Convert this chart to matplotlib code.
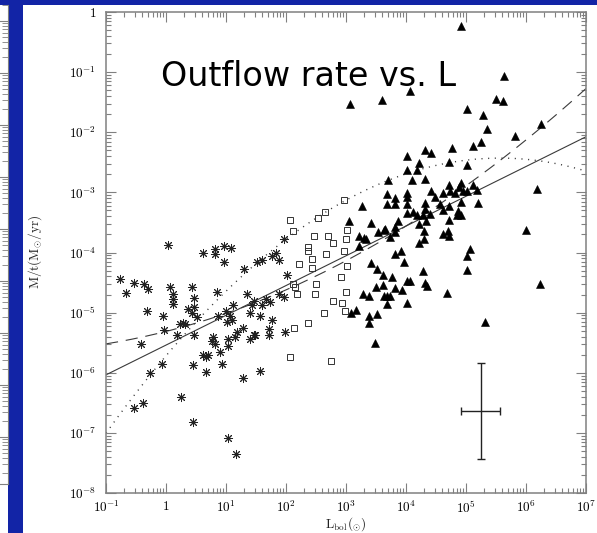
import matplotlib
matplotlib.use("Agg")
import matplotlib.pyplot as plt
import numpy as np
from matplotlib.patches import Rectangle
from matplotlib.ticker import LogLocator, FuncFormatter, NullFormatter

W, H = 597, 533
BLUE = "#1224a6"
FRAME = "#808080"

# log10 L_bol and log10 Mdot for the three source groups
STAR_LOGL = [0.04, 0.62, 0.81, 0.82, 0.96, 1.08, 0.96, 1.30, -0.76, -0.67, -0.53, -0.37,
             -0.30, 0.07, 0.11, 0.11, 0.11, 0.43, 0.46, 0.47, 0.37, 0.43, 0.51, -0.31,
             -0.05, 0.85, 1.11, 1.00, 0.87, 1.07, 1.10, 1.01, 0.29, 0.32, 0.23, -0.03,
             0.18, 0.47, -0.41, 0.79, 0.76, 0.81, 1.04, 1.04, 1.18, 1.15, 1.29, 1.40,
             1.35, 1.46, 1.60, 1.73, 1.67, 1.57, 1.76, 1.71, 1.71, 1.46, 1.40, 0.90,
             0.62, 0.67, 0.70, 0.93, 0.45, 0.67, -0.07, -0.26, 1.57, 1.29, 1.51, 1.60,
             1.76, 1.83, 1.89, 1.89, -0.39, -0.53, 0.25, 0.45, 1.96, 2.01, 1.96, 1.98,
             1.43, 1.48, 1.17, 1.03]
STAR_LOGM = [-3.87, -4.00, -3.95, -4.02, -3.90, -3.92, -4.15, -4.27, -4.44, -4.68, -4.51, -4.52,
             -4.61, -4.58, -4.69, -4.77, -4.85, -4.58, -4.75, -4.90, -4.94, -5.00, -5.08, -4.98,
             -5.05, -4.66, -4.87, -4.97, -5.05, -5.05, -5.13, -5.16, -5.18, -5.19, -5.19, -5.29,
             -5.37, -5.38, -5.52, -5.41, -5.47, -5.52, -5.44, -5.55, -5.33, -5.41, -5.25, -5.00,
             -4.69, -4.80, -4.88, -4.83, -4.77, -5.05, -5.13, -5.27, -5.38, -5.37, -5.44, -5.66,
             -5.70, -5.73, -5.70, -5.85, -5.87, -5.98, -5.85, -6.01, -5.97, -6.09, -4.16, -4.12,
             -4.05, -4.01, -4.13, -4.69, -6.51, -6.58, -6.40, -6.82, -3.77, -4.38, -4.74, -5.33,
             -4.88, -5.38, -7.35, -7.08]

SQ_LOGL = [2.97, 2.65, 2.54, 2.06, 2.11, 3.01, 2.46, 2.70, 2.79, 3.00, 2.36, 2.37, 2.67,
           2.97, 2.43, 2.21, 2.43, 3.01, 2.91, 2.12, 2.15, 2.50, 2.19, 2.48, 3.00, 2.79,
           2.93, 2.98, 2.63, 2.36, 2.13, 2.06, 2.75]
SQ_LOGM = [-3.13, -3.33, -3.43, -3.46, -3.65, -3.62, -3.72, -3.73, -3.84, -3.77, -3.91, -3.97, -4.03,
           -3.98, -4.10, -4.19, -4.26, -4.22, -4.40, -4.52, -4.57, -4.53, -4.69, -4.69, -4.65, -4.80,
           -4.84, -4.97, -5.00, -5.17, -5.26, -5.73, -5.81]

TRI_LOGL = [5.63, 4.07, 3.60, 5.50, 5.61, 5.02, 5.28, 5.35, 6.25, 5.81, 5.25, 5.12, 4.76,
            4.32, 4.41, 4.01, 4.22, 4.72, 5.02, 4.01, 4.19, 3.70, 4.10, 4.32, 4.72, 4.91,
            4.89, 5.12, 4.42, 4.62, 4.73, 4.82, 4.95, 5.02, 5.18, 6.18, 3.69, 4.02, 4.02,
            3.82, 4.48, 3.69, 3.82, 4.01, 4.32, 4.57, 4.72, 4.92, 5.20, 4.12, 4.18, 4.02,
            4.32, 4.29, 4.40, 4.61, 4.86, 4.92, 4.85, 3.87, 4.33, 4.22, 4.72, 3.65, 3.82,
            3.82, 3.73, 4.30, 4.61, 4.70, 4.72, 6.00, 4.30, 4.22, 3.82, 3.92, 5.02, 5.07,
            4.92, 3.07, 3.26, 3.05, 3.41, 3.53, 3.64, 3.22, 3.30, 3.33, 3.21, 3.96, 3.41,
            3.51, 3.61, 3.76, 4.29, 5.02, 3.50, 3.62, 4.01, 4.06, 4.32, 4.35, 3.82, 3.94,
            3.29, 3.39, 3.63, 3.69, 3.73, 4.68, 3.68, 4.01, 3.09, 3.16, 3.39, 3.51, 3.39,
            3.48, 5.32, 6.23]
TRI_LOGM = [-1.06, -1.31, -1.47, -1.44, -1.48, -1.61, -1.72, -1.95, -1.86, -2.07, -2.16, -2.23, -2.26,
            -2.29, -2.35, -2.40, -2.51, -2.50, -2.55, -2.62, -2.62, -2.80, -2.79, -2.78, -2.87, -2.85,
            -2.91, -2.88, -2.97, -3.01, -2.97, -3.01, -2.98, -2.98, -2.96, -2.94, -3.03, -3.01, -3.08,
            -3.09, -3.08, -3.20, -3.19, -3.19, -3.18, -3.20, -3.22, -3.16, -3.17, -3.33, -3.38, -3.35,
            -3.27, -3.37, -3.36, -3.29, -3.31, -3.37, -3.37, -3.47, -3.47, -3.53, -3.46, -3.61, -3.58,
            -3.66, -3.75, -3.65, -3.69, -3.65, -3.72, -3.62, -3.77, -3.85, -4.02, -3.98, -4.05, -3.95,
            -0.23, -1.53, -3.22, -3.47, -3.51, -3.66, -3.62, -3.72, -3.76, -3.77, -3.90, -4.15, -4.18,
            -4.28, -4.37, -4.40, -4.30, -4.29, -4.57, -4.54, -4.48, -4.48, -4.51, -4.55, -4.59, -4.62,
            -4.69, -4.73, -4.72, -4.72, -4.72, -4.67, -4.86, -4.84, -5.00, -4.95, -5.06, -5.03, -5.18,
            -5.51, -5.15, -4.52]

# fits in log-log space
SOLID_FIT = (-5.54, 0.495)              # intercept, slope
DASH_FIT = (-5.313, 0.253, 0.0463)      # a + b*x + c*x^2
DOT_FIT = (5.57, -2.43, 0.106)          # peak x, peak y, curvature

# typical error bar (log10 centre and half-widths in dex)
ERR_X, ERR_Y = 5.245, -6.63
ERR_DX, ERR_DY = 0.325, 0.8


def px(x0, y0, w, h):
    """figure-fraction rect from pixel box given from the top-left corner"""
    return [x0 / W, 1 - (y0 + h) / H, w / W, h / H]


def tick_label(v, pos):
    e = int(round(np.log10(v)))
    if e == 0:
        return r"$1$"
    return r"$10^{%d}$" % e


def main():
    plt.rcParams["mathtext.fontset"] = "cm"
    fig = plt.figure(figsize=(W / 100, H / 100), dpi=100, facecolor=BLUE)

    # white slide areas
    fig.add_artist(Rectangle((23 / W, 0), 1, 528 / H, transform=fig.transFigure,
                             facecolor="white", edgecolor="none", zorder=0))
    fig.add_artist(Rectangle((0, 0), 7.5 / W, 528 / H, transform=fig.transFigure,
                             facecolor="white", edgecolor="none", zorder=0))

    # edge of the neighbouring plot on the left
    side = fig.add_axes(px(-300, 5, 307.5, 479))
    side.set_yscale("log")
    side.set_ylim(10 ** -8.904, 10 ** 0.308)
    side.set_xticks([])
    for s in ("top", "left"):
        side.spines[s].set_visible(False)
    for s in ("right", "bottom"):
        side.spines[s].set_color(FRAME)
    side.yaxis.set_major_locator(LogLocator(base=10, numticks=20))
    side.yaxis.set_minor_locator(LogLocator(base=10, subs=np.arange(2, 10), numticks=20))
    side.yaxis.set_minor_formatter(NullFormatter())
    side.tick_params(axis="y", which="both", left=False, right=True, labelleft=False,
                     labelright=False, direction="in", color=FRAME)
    side.tick_params(axis="y", which="major", length=8)
    side.tick_params(axis="y", which="minor", length=4)

    ax = fig.add_axes(px(106, 12, 480, 481))
    ax.set_xscale("log")
    ax.set_yscale("log")
    ax.set_xlim(1e-1, 1e7)
    ax.set_ylim(1e-8, 1)

    lx = np.linspace(-1, 7, 300)
    ax.plot(10 ** lx, 10 ** (SOLID_FIT[0] + SOLID_FIT[1] * lx), color="#3a3a3a", lw=0.8)
    a, b, c = DASH_FIT
    ax.plot(10 ** lx, 10 ** (a + b * lx + c * lx ** 2), color="#3a3a3a", lw=0.8,
            dashes=(11, 7))
    x0, y0, k = DOT_FIT
    ax.plot(10 ** lx, 10 ** (y0 - k * (lx - x0) ** 2), color="#3a3a3a", lw=1.0,
            dashes=(0.8, 4))

    ax.plot(10 ** np.array(STAR_LOGL), 10 ** np.array(STAR_LOGM), ls="none",
            marker=(8, 2, 0), ms=6.5, mew=0.7, color="#222222")
    ax.plot(10 ** np.array(SQ_LOGL), 10 ** np.array(SQ_LOGM), ls="none",
            marker="s", ms=4.3, mew=0.7, mfc="none", mec="#333333")
    ax.plot(10 ** np.array(TRI_LOGL), 10 ** np.array(TRI_LOGM), ls="none",
            marker="^", ms=5.5, mew=0.4, color="black")

    cx, cy = 10 ** ERR_X, 10 ** ERR_Y
    xerr = [[cx - 10 ** (ERR_X - ERR_DX)], [10 ** (ERR_X + ERR_DX) - cx]]
    yerr = [[cy - 10 ** (ERR_Y - ERR_DY)], [10 ** (ERR_Y + ERR_DY) - cy]]
    ax.errorbar([cx], [cy], xerr=xerr, yerr=yerr, fmt="none", ecolor="#222222",
                elinewidth=1.0, capsize=2.6, capthick=1.0)

    for s in ax.spines.values():
        s.set_color(FRAME)
        s.set_linewidth(1.1)
    for axis in (ax.xaxis, ax.yaxis):
        axis.set_major_locator(LogLocator(base=10, numticks=20))
        axis.set_minor_locator(LogLocator(base=10, subs=np.arange(2, 10), numticks=20))
        axis.set_major_formatter(FuncFormatter(tick_label))
        axis.set_minor_formatter(NullFormatter())
    ax.tick_params(which="both", direction="in", top=True, right=True, color=FRAME,
                   width=0.8, labelsize=9.5)
    ax.tick_params(axis="x", pad=5)
    ax.tick_params(axis="y", pad=7)
    ax.tick_params(which="major", length=7.5)
    ax.tick_params(which="minor", length=3.8)

    fig.text(35 / W, 1 - 252 / H, r"$\mathrm{M/t(M_{\odot}/yr)}$", rotation=90,
             ha="center", va="center", fontsize=9.5, color="#222222")
    fig.text(346 / W, 1 - 527.5 / H, r"$\mathrm{L_{bol}(_{\odot})}$",
             ha="center", va="baseline", fontsize=9.5, color="#222222")

    fig.text(161 / W, 1 - 86 / H, "Outflow rate vs. L", fontsize=24,
             family="DejaVu Sans", color="black", ha="left", va="baseline")

    fig.savefig("out.png", dpi=100, facecolor=BLUE)
    plt.close(fig)


if __name__ == "__main__":
    main()
